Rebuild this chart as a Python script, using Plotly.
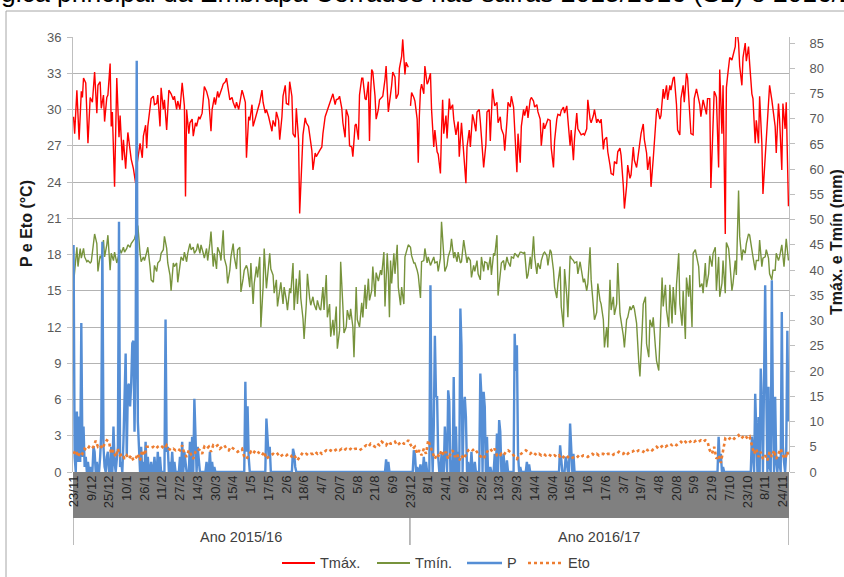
import plotly.graph_objects as go

N_DAYS = 646
FONT = "Liberation Sans, Arial, sans-serif"

tick_days = list(range(0, 289, 16)) + list(range(304, 641, 16))
tick_text = ["23/11", "9/12", "25/12", "10/1", "26/1", "11/2", "27/2", "14/3", "30/3", "15/4",
             "1/5", "17/5", "2/6", "18/6", "4/7", "20/7", "5/8", "21/8", "6/9",
             "23/12", "8/1", "24/1", "9/2", "25/2", "13/3", "29/3", "14/4", "30/4", "16/5",
             "1/6", "17/6", "3/7", "19/7", "4/8", "20/8", "5/9", "21/9", "7/10", "23/10",
             "8/11", "24/11"]
seasons = ["Ano 2015/16", "Ano 2016/17"]
season_bounds = [-0.5, 303.5, 645.5]

tmax_pts = [
(0,29.4),(1,28.0),(3,31.6),(5,27.5),(7,31.5),(8,31.0),(9,32.6),(11,32.2),(13,27.2),(15,31.0),(17,30.6),(19,33.1),(21,29.7),(22,32.0),(24,32.3),(25,30.1),(27,31.2),(28,29.0),(30,31.0),(31,31.2),(33,33.8),(34,28.6),(35,29.8),(37,23.6),(39,32.6),(41,27.7),(42,29.5),(44,25.8),(45,27.5),(47,25.1),(49,28.1),(51,26.5),(52,25.9),(54,25.1),(56,23.9),(57,25.3),(60,27.2),(62,26.0),(63,27.8),(65,28.7),(66,26.8),(67,28.6),(69,30.0),(70,30.9),(72,31.1),(73,30.4),(75,30.5),(76,31.2),(78,28.6),(79,31.8),(81,30.0),(82,30.8),(84,28.3),(86,31.6),(88,31.3),(90,30.8),(91,31.1),(93,30.0),(94,30.7),(96,30.0),(98,32.2),(100,30.3),(101,22.8),(102,30.0),(104,28.0),(105,28.9),(107,29.2),(108,27.8),(110,28.9),(111,28.6),(113,29.4),(114,29.2),(116,29.7),(118,31.9),(120,31.5),(122,30.8),(124,28.2),(125,30.0),(127,31.0),(128,30.4),(130,31.5),(131,31.0),(134,31.8),(135,32.1),(137,32.3),(138,32.6),(140,31.4),(141,30.8),(143,31.0),(144,30.6),(146,30.1),(147,30.6),(149,30.0),(150,30.6),(152,31.6),(153,31.3),(155,30.6),(156,26.0),(158,29.4),(159,29.1),(161,30.4),(162,28.6),(164,29.3),(165,29.7),(167,30.3),(168,30.6),(170,31.6),(171,30.6),(173,29.7),(174,30.0),(176,29.4),(177,28.9),(179,28.2),(180,29.1),(182,28.6),(183,29.8),(185,29.1),(186,27.5),(188,29.4),(189,31.1),(191,32.0),(192,30.5),(194,30.4),(195,32.3),(197,31.1),(198,28.0),(200,27.7),(201,30.1),(203,27.5),(204,21.4),(206,26.9),(207,27.9),(209,29.3),(210,28.9),(212,28.6),(213,27.9),(215,26.6),(216,25.0),(218,26.4),(219,26.1),(221,26.5),(222,26.6),(224,26.9),(225,28.0),(227,29.4),(228,29.7),(230,30.1),(231,30.6),(233,31.2),(234,31.3),(236,30.4),(237,30.8),(239,30.9),(240,31.1),(242,30.1),(243,28.9),(245,27.7),(246,30.0),(248,29.4),(249,27.0),(251,26.9),(252,26.1),(254,28.7),(255,28.8),(257,27.5),(258,31.2),(260,32.6),(261,32.6),(263,30.9),(264,30.8),(266,32.3),(267,27.4),(268,31.3),(269,33.3),(270,33.1),(272,31.1),(273,29.2),(275,30.0),(276,30.8),(278,31.0),(279,31.1),(281,32.5),(282,33.6),(284,29.8),(285,30.5),(287,32.0),(288,33.1),(290,32.7),(291,30.9),(293,31.3),(294,33.4),(296,34.4),(297,35.8),(299,32.9),(300,33.9),(301,33.6),(302,33.5),(303,None),
(304,30.3),(305,31.4),(307,31.0),(308,30.7),(310,29.2),(311,25.6),(312,29.5),(313,31.6),(314,32.1),(316,31.3),(317,33.6),(319,32.1),(320,32.3),(322,33.0),(323,30.0),(325,26.9),(326,28.3),(328,26.5),(329,26.3),(331,24.7),(332,28.3),(333,30.8),(334,28.0),(336,29.5),(337,27.6),(339,30.9),(340,30.0),(342,30.4),(343,29.2),(345,27.9),(347,29.0),(348,26.1),(350,28.9),(351,27.6),(353,25.0),(354,23.9),(355,26.9),(357,28.3),(358,26.9),(360,29.6),(361,29.2),(363,28.2),(364,29.8),(366,30.0),(367,29.0),(369,26.0),(370,25.2),(372,27.1),(373,29.8),(375,30.0),(376,27.4),(378,31.7),(379,31.1),(380,30.3),(382,30.6),(383,28.9),(385,29.4),(386,28.4),(388,27.9),(389,26.6),(391,29.0),(392,30.6),(394,30.2),(395,31.1),(397,30.2),(398,28.6),(400,24.8),(401,28.0),(403,25.6),(404,28.6),(406,30.0),(407,29.5),(409,30.3),(410,29.3),(412,30.8),(413,31.0),(415,30.7),(416,30.2),(418,30.4),(419,29.8),(421,29.2),(422,27.0),(424,28.9),(425,28.4),(427,28.9),(428,29.2),(430,29.1),(431,26.8),(433,25.2),(434,27.4),(436,29.2),(437,29.6),(439,29.5),(440,29.9),(442,30.2),(443,29.7),(445,30.3),(446,29.4),(448,27.0),(449,28.3),(451,25.8),(452,27.6),(454,29.7),(455,28.4),(457,28.1),(458,27.9),(460,28.0),(461,27.9),(463,28.4),(464,30.8),(466,29.2),(467,28.9),(469,29.5),(470,30.0),(472,28.9),(473,29.2),(475,28.9),(476,29.2),(478,26.7),(479,27.5),(481,27.7),(482,26.5),(484,25.4),(485,24.7),(487,24.6),(488,25.7),(490,25.5),(491,26.5),(493,26.8),(494,26.2),(496,23.7),(497,21.8),(499,23.7),(500,25.4),(502,24.3),(503,24.6),(505,26.9),(506,25.8),(508,25.2),(509,25.9),(511,27.0),(512,28.0),(514,28.8),(515,27.5),(517,26.4),(518,25.0),(520,26.1),(521,23.6),(523,25.9),(524,27.5),(526,29.9),(527,30.1),(529,29.2),(530,29.5),(532,31.7),(533,30.9),(535,32.0),(536,30.8),(538,32.0),(539,31.6),(541,32.6),(542,32.7),(544,30.4),(545,28.3),(547,27.9),(548,30.9),(550,32.0),(551,30.6),(553,33.0),(554,32.6),(556,29.0),(557,28.0),(559,27.9),(560,30.9),(562,31.7),(563,31.2),(565,30.4),(566,29.4),(568,30.8),(569,30.4),(571,29.6),(572,30.9),(574,30.9),(575,23.5),(577,28.0),(578,31.5),(579,31.3),(580,31.0),(582,25.2),(583,33.3),(585,28.0),(586,32.0),(588,19.7),(589,31.8),(590,32.7),(591,33.6),(592,34.3),(594,34.1),(595,34.5),(597,35.2),(598,37.0),(600,35.5),(601,33.6),(603,32.0),(604,34.3),(606,35.5),(607,34.0),(609,35.2),(610,33.8),(612,31.3),(613,30.9),(615,27.2),(616,29.1),(618,27.2),(619,31.1),(621,27.2),(622,23.0),(624,25.8),(625,27.5),(627,30.0),(628,32.0),(630,30.8),(631,30.0),(633,28.6),(634,26.4),(636,30.5),(637,29.2),(639,25.0),(640,30.5),(642,28.4),(643,30.6),(645,22.0)]

tmin_pts = [
(0,15.6),(2,17.8),(3,18.6),(4,17.0),(6,18.5),(7,17.7),(9,18.5),(10,17.8),(12,17.4),(13,17.5),(15,17.3),(16,17.4),(18,18.8),(19,19.7),(21,18.9),(22,16.6),(24,17.9),(25,17.7),(27,19.2),(28,17.8),(30,18.8),(31,19.6),(33,16.7),(34,18.1),(36,17.5),(37,18.2),(39,17.3),(40,17.7),(42,18.4),(43,18.1),(45,18.6),(46,18.2),(48,18.5),(49,18.8),(51,18.6),(52,18.9),(54,19.2),(55,19.3),(57,20.0),(58,20.4),(60,18.1),(61,17.4),(63,17.8),(64,17.5),(66,18.2),(67,18.6),(69,17.0),(70,15.9),(72,15.7),(73,17.1),(75,16.6),(76,17.3),(78,17.5),(79,18.1),(81,18.4),(82,19.5),(84,18.5),(85,17.3),(87,16.3),(88,15.0),(90,17.3),(91,17.0),(93,17.3),(94,15.7),(96,17.1),(97,17.8),(99,17.5),(100,18.2),(102,17.4),(103,18.1),(105,18.9),(106,18.4),(108,18.6),(109,18.1),(111,18.4),(112,18.9),(114,18.1),(115,18.8),(117,18.1),(118,17.7),(120,18.5),(121,17.5),(123,18.9),(124,19.9),(126,17.0),(127,18.1),(129,16.8),(130,18.6),(132,18.1),(133,17.5),(135,20.0),(136,17.7),(138,17.0),(139,15.6),(141,16.7),(142,17.8),(144,18.9),(145,17.8),(147,16.8),(148,18.4),(150,18.6),(151,14.9),(153,16.0),(154,16.7),(156,17.1),(157,16.8),(159,15.3),(160,17.3),(162,13.9),(163,15.6),(165,17.0),(166,16.1),(168,17.8),(169,12.0),(171,15.3),(172,18.5),(174,15.2),(175,16.0),(177,18.1),(178,16.8),(180,16.3),(181,14.8),(183,15.9),(184,13.7),(186,15.0),(187,15.7),(189,13.9),(190,15.3),(192,14.2),(193,13.4),(195,15.2),(196,14.8),(198,17.3),(199,13.4),(201,16.0),(202,13.9),(204,16.7),(205,14.4),(207,12.7),(208,11.0),(210,13.9),(211,16.4),(213,14.4),(214,13.8),(216,14.5),(217,13.9),(219,13.4),(220,14.2),(222,13.5),(223,13.4),(225,15.3),(226,13.4),(228,16.3),(229,12.8),(231,13.9),(232,11.2),(234,12.6),(235,11.3),(237,13.7),(238,10.2),(240,11.7),(241,17.4),(243,13.7),(244,11.5),(246,12.0),(247,13.4),(249,12.6),(250,13.5),(252,12.0),(253,9.5),(255,15.3),(256,12.6),(258,12.0),
(260,14.0),(261,12.8),(263,15.5),(264,13.5),(266,16.0),(267,14.2),(269,15.0),(270,17.0),(272,14.5),(273,16.5),(275,15.8),
(277,16.7),(278,16.3),(280,18.2),(281,13.7),(283,18.1),(284,16.4),(285,12.8),(286,17.5),(287,15.6),(289,18.1),(290,16.4),(292,18.8),(293,15.3),(295,13.8),(296,15.3),(298,13.9),(299,17.8),(301,18.6),(302,18.8),
(304,18.6),(305,17.9),(307,17.3),(308,17.3),(310,16.7),(311,16.3),(313,14.4),(314,17.4),(316,17.5),(317,18.5),(319,17.3),(320,17.8),(322,17.1),(323,17.4),(325,17.8),(326,17.3),(328,17.4),(329,16.6),(331,17.7),(332,20.7),(334,17.8),(335,16.6),(337,17.1),(338,17.8),(340,18.4),(341,19.3),(343,17.7),(344,18.2),(346,17.4),(347,18.2),(349,17.3),(350,17.4),(352,19.2),(353,18.5),(355,17.3),(356,17.8),(358,17.5),(359,16.1),(361,17.1),(362,16.6),(364,17.5),(365,16.4),(367,15.9),(368,17.8),(370,16.6),(371,17.4),(373,17.3),(374,16.7),(376,17.8),(377,16.3),(379,18.1),(380,17.9),(382,19.6),(383,14.6),(385,16.7),(386,17.3),(388,17.5),(389,16.7),(391,17.8),(392,17.4),(394,17.0),(395,17.8),(397,17.7),(398,18.1),(400,17.9),(401,17.8),(403,18.2),(404,18.2),(406,18.1),(407,18.2),(409,16.0),(410,16.3),(412,17.8),(413,16.8),(415,19.5),(416,17.8),(418,16.4),(419,17.3),(421,16.8),(422,17.5),(424,18.1),(425,18.2),(427,17.9),(428,17.1),(430,18.4),(431,18.2),(433,16.7),(434,15.3),(436,14.4),(437,15.6),(439,17.0),(440,13.7),(442,12.0),(443,16.8),(445,14.6),(446,12.8),(448,17.9),(449,17.7),(451,17.5),(452,17.3),(454,17.4),(455,16.4),(457,17.4),(458,16.7),(460,15.7),(461,16.0),(463,15.0),(464,15.6),(466,18.6),(467,15.9),(469,13.7),(470,12.6),(472,13.2),(473,15.6),(475,14.2),(476,13.9),(478,12.6),(479,10.3),(481,12.0),(482,10.3),(484,15.9),(485,13.4),(487,14.5),(488,13.0),(490,13.9),(491,17.3),(493,13.1),(494,12.6),(496,11.3),(497,10.3),(499,12.6),(500,12.8),(502,13.7),(503,13.4),(505,13.8),(506,13.5),(508,12.3),(510,9.0),(511,7.9),(513,11.7),(514,13.9),(516,14.5),(517,10.6),(519,9.5),(520,12.6),(522,12.0),(523,12.8),(525,10.3),(526,9.2),(528,8.4),(529,11.2),(531,16.1),(532,13.7),(534,15.5),(535,13.4),(537,12.0),(538,15.5),(540,12.3),(541,15.3),(543,13.0),(544,15.5),(546,18.1),(547,13.9),(549,12.1),(550,15.0),(552,11.0),(553,16.1),(555,14.5),(556,16.3),(558,12.0),(559,18.1),(561,18.4),(562,17.9),(564,17.0),(565,15.3),(567,15.6),(568,14.8),(570,17.3),(571,15.3),(573,16.4),(574,17.9),(576,17.0),(577,18.1),(579,18.6),(580,15.0),(582,17.8),(583,14.5),(585,15.6),(586,17.5),(588,14.8),(589,19.0),(591,18.5),(592,17.5),(594,15.0),(595,15.6),(597,17.5),(598,16.3),(600,23.3),(601,19.5),(603,17.5),(604,18.4),(606,18.1),(607,18.9),(609,19.7),(610,19.6),(612,18.6),(613,17.8),(615,16.7),(616,17.5),(618,17.5),(619,19.2),(621,17.0),(622,17.7),(624,17.8),(625,18.4),(627,17.7),(628,16.4),(630,15.9),(631,16.7),(633,16.7),(634,18.1),(636,17.5),(637,17.8),(639,18.8),(641,17.0),(643,19.3),(645,17.5)]

# rainy days (day index, mm); every other day had no rain (0 mm)
rain_pts = [
(0,45),(1,3),(3,12),(4,2),(5,11),(6,2),(7,29.5),(8,3),(9,9),(10,1),(11,3),(13,2),(15,1),(18,5),(19,4),(21,2),(24,3),(25,7.6),(26,45.6),(27,5),(28,1),(30,3),(31,4),(34,5),(36,9),(37,2),(39,3),(40,5),(41,49.6),(42,1),(43,2),(45,6),(46,13),(47,23.5),(48,3),(49,17),(50,17.5),(51,13),(52,17.5),(53,25.5),(54,26),(55,8),(56,23),(57,81.5),(58,10),(59,3),(61,5),(63,2),(65,6),(67,3),(70,2),(73,3),(76,4),(78,3),(83,30.2),(84,4),(85,5),(87,2),(89,4),(91,2),(96,3),(98,6),(100,4),(101,1),(105,6),(107,7),(109,14.5),(110,5),(112,5),(113,3),(120,2),(123,4),(125,2),(127,1),(155,17.9),(156,4),(157,13),(158,3),(174,10.6),(175,7.6),(176,3),(177,5),(198,4.6),(199,3.6),(200,1),(282,2.5),(284,2),
(307,4.3),(308,3.5),(310,1),(313,1.5),(316,3),(318,2),(322,37),(323,8),(325,9),(326,27),(327,15),(328,14.9),(329,3),(332,3.6),(335,9),(336,4),(338,16.2),(339,14),(341,2.3),(343,18.8),(345,9),(347,4),(349,32.4),(350,25),(352,12.9),(353,14.9),(354,10.9),(356,2),(359,4),(362,2),(367,19.5),(368,15),(370,15.9),(371,12.9),(373,7),(376,1),(380,3.6),(382,7.6),(384,10.3),(385,8),(388,3.6),(391,2.3),(398,27.4),(399,20),(400,25.1),(401,3.6),(403,1),(409,2),(411,1.5),(439,5.3),(440,2),(444,3),(445,2),(448,9.6),(449,5),(451,3.6),(582,7),(583,2),(584,3.6),(586,1),(612,7),(613,3),(615,15.5),(616,8),(618,10.9),(620,20.5),(621,12.9),(623,26.1),(624,37),(625,16),(627,16.9),(628,1),(630,38),(631,11.6),(633,14.9),(634,2),(636,3),(637,1.5),(639,31.7),(640,5),(641,2),(643,4),(644,28),(645,10)]

eto_pts = [
(0,3.6),(2,4.3),(4,3.0),(6,4.0),(8,3.6),(10,4.6),(12,4.3),(14,5.0),(16,4.6),(18,5.0),(20,6.2),(22,5.0),(24,5.3),(26,4.6),(28,5.6),(30,6.3),(32,6.0),(34,3.6),(36,4.3),(38,3.0),(40,4.6),(42,3.3),(44,3.6),(46,2.6),(48,3.3),(50,2.6),(52,3.3),(54,2.3),(56,2.6),(58,3.6),(60,2.3),(62,4.3),(64,3.3),(66,5.0),(68,5.0),(70,4.8),(72,5.0),(74,4.6),(76,5.0),(78,5.3),(80,5.0),(82,4.6),(84,5.3),(86,4.6),(88,4.3),(90,4.6),(92,4.3),(94,4.6),(96,4.3),(98,5.3),(100,3.6),(102,3.0),(104,4.3),(106,3.3),(108,2.6),(110,4.0),(112,4.6),(114,4.3),(116,3.6),(118,5.0),(120,4.6),(122,5.0),(124,4.0),(126,5.3),(128,5.0),(130,5.3),(132,4.6),(134,5.0),(136,5.3),(138,4.6),(140,4.3),(142,5.0),(144,4.6),(146,4.3),(148,4.0),(150,4.3),(152,4.6),(154,3.0),(156,2.6),(158,3.3),(160,4.0),(162,3.6),(164,4.3),(166,4.0),(168,3.6),(170,3.3),(172,4.0),(174,2.6),(176,3.0),(178,3.3),(180,3.6),(182,3.3),(184,3.6),(186,3.0),(188,3.3),(190,3.6),(192,3.3),(194,3.6),(196,3.3),(198,2.6),(200,3.0),(202,2.3),(204,3.0),(206,3.6),(208,3.3),(210,3.6),(212,3.3),(214,3.6),(216,3.6),(218,4.0),(220,3.6),(222,4.0),(224,3.6),(226,4.0),(228,4.3),(230,4.0),(232,4.3),(234,4.0),(236,4.3),(238,4.6),(240,4.3),(242,4.6),(244,4.3),(246,4.6),(248,4.3),(250,4.6),(252,4.3),(254,4.6),(256,4.6),(258,4.3),(260,4.6),(262,5.0),(264,5.3),(266,5.0),(268,5.6),(270,5.3),(272,5.0),(274,5.6),(276,5.3),(278,6.0),(280,5.6),(282,5.3),(284,6.0),(286,5.6),(288,5.6),(290,6.0),(292,5.3),(294,5.6),(296,6.0),(298,5.6),(300,5.6),(302,6.3),
(304,5.3),(306,4.6),(308,5.0),(310,3.6),(312,4.3),(314,3.3),(316,4.6),(318,3.6),(320,6.3),(322,5.0),(324,4.0),(326,2.6),(328,3.6),(330,3.0),(332,4.3),(334,3.3),(336,4.0),(338,2.6),(340,3.6),(342,4.3),(344,3.0),(346,3.6),(348,2.3),(350,3.3),(352,2.6),(354,3.6),(356,4.3),(358,4.6),(360,4.3),(362,4.6),(364,4.0),(366,3.3),(368,3.0),(370,2.6),(372,3.6),(374,4.3),(376,4.6),(378,4.0),(380,4.6),(382,3.3),(384,3.0),(386,3.6),(388,3.3),(390,4.0),(392,4.3),(394,4.0),(396,3.6),(398,3.0),(400,2.6),(402,3.3),(404,3.6),(406,4.0),(408,4.3),(410,4.0),(412,3.6),(414,4.0),(416,3.6),(418,3.3),(420,3.6),(422,3.3),(424,3.6),(426,3.3),(428,3.6),(430,3.3),(432,3.0),(434,3.3),(436,3.0),(438,3.3),(440,2.6),(442,3.0),(444,2.6),(446,3.0),(448,2.6),(450,2.8),(452,3.0),(454,2.8),(456,3.3),(458,3.0),(460,3.3),(462,3.3),(464,3.0),(466,3.3),(468,3.6),(470,3.3),(472,3.6),(474,3.3),(476,3.6),(478,3.6),(480,3.3),(482,3.6),(484,3.6),(486,3.3),(488,3.6),(490,3.6),(492,4.0),(494,3.6),(496,3.6),(498,4.0),(500,3.6),(502,4.0),(504,4.0),(506,4.3),(508,4.0),(510,4.3),(512,4.3),(514,4.0),(516,4.6),(518,4.3),(520,4.6),(522,4.3),(524,4.6),(526,5.0),(528,4.6),(530,5.0),(532,5.3),(534,5.0),(536,5.3),(538,5.6),(540,5.3),(542,5.6),(544,5.3),(546,5.6),(548,6.0),(550,5.6),(552,6.0),(554,5.6),(556,6.0),(558,6.3),(560,6.0),(562,6.3),(564,6.0),(566,6.3),(568,6.0),(570,6.3),(572,6.0),(574,4.3),(576,3.6),(578,5.0),(580,2.6),(582,3.3),(584,1.8),(586,4.3),(588,6.6),(590,6.3),(592,6.6),(594,7.0),(596,6.6),(598,7.0),(600,7.3),(602,6.6),(604,7.0),(606,7.3),(608,6.6),(610,7.0),(612,5.3),(614,3.6),(616,4.6),(618,3.0),(620,4.0),(622,2.6),(624,3.3),(626,2.3),(628,4.0),(630,3.0),(632,4.3),(634,2.6),(636,3.6),(638,4.6),(640,3.3),(642,2.6),(644,4.0),(645,3.0)]

top_text = "gica principal da Embrapa Cerrados nas safras 2015/2016 (S1) e 2016/2"

series_names = ["Tmáx.", "Tmín.", "P", "Eto"]
series_colors = ["#FF0000", "#77933C", "#558ED5", "#ED7D31"]

# ---- build series ----
tmax_x = [d for d, v in tmax_pts]
tmax_y = [v for d, v in tmax_pts]
tmin_x = [d for d, v in tmin_pts]
tmin_y = [v for d, v in tmin_pts]
p_x = list(range(N_DAYS))
p_y = [0.0] * N_DAYS
for d, v in rain_pts:
    p_y[d] = v
eto_x = [d for d, v in eto_pts]
eto_y = [v for d, v in eto_pts]

fig = go.Figure()
fig.add_trace(go.Scatter(x=tmax_x, y=tmax_y, name=series_names[0], mode="lines",
                         line=dict(color=series_colors[0], width=1.4), yaxis="y"))
fig.add_trace(go.Scatter(x=tmin_x, y=tmin_y, name=series_names[1], mode="lines",
                         line=dict(color=series_colors[1], width=1.4), yaxis="y"))
fig.add_trace(go.Scatter(x=p_x, y=p_y, name=series_names[2], mode="lines",
                         line=dict(color=series_colors[2], width=2.4), yaxis="y2"))
fig.add_trace(go.Scatter(x=eto_x, y=eto_y, name=series_names[3], mode="lines",
                         line=dict(color=series_colors[3], width=2.6, dash="dot"), yaxis="y2"))

L, R, T, B = 73, 55, 37, 105
W, H = 844, 577
pw, ph = W - L - R, H - T - B

def px2x(px):
    return (px - L) / pw

def py2y(py):
    return (H - B - py) / ph

shapes = [
    # grey band behind the day labels
    dict(type="rect", xref="paper", yref="paper", x0=0, x1=1, y0=0, y1=py2y(518),
         fillcolor="#808080", line=dict(width=0), layer="below"),
    # outer chart frame (top / left edges visible)
    dict(type="line", xref="paper", yref="paper", x0=px2x(6), x1=px2x(900),
         y0=py2y(11), y1=py2y(11), line=dict(color="#a6a6a6", width=1)),
    dict(type="line", xref="paper", yref="paper", x0=px2x(6), x1=px2x(6),
         y0=py2y(11), y1=py2y(620), line=dict(color="#a6a6a6", width=1)),
]
for b in season_bounds:
    shapes.append(dict(type="line", xref="x", yref="paper", x0=b, x1=b,
                       y0=py2y(518), y1=py2y(545),
                       line=dict(color="#a6a6a6", width=1.5)))

annotations = []
for i, s in enumerate(seasons):
    annotations.append(dict(text=s, xref="x", yref="paper",
                            x=(season_bounds[i] + season_bounds[i + 1]) / 2, y=py2y(537),
                            showarrow=False, xanchor="center", yanchor="middle",
                            font=dict(family=FONT, size=14.5, color="#404040")))
annotations.append(dict(text="<b>P e Eto (°C)</b>", xref="paper", yref="paper",
                        x=px2x(26), y=py2y(224), textangle=-90, showarrow=False,
                        xanchor="center", yanchor="middle",
                        font=dict(family=FONT, size=16, color="#1a1a1a")))
annotations.append(dict(text="<b>Tmáx. e Tmín (mm)</b>", xref="paper", yref="paper",
                        x=px2x(836), y=py2y(242), textangle=-90, showarrow=False,
                        xanchor="center", yanchor="middle",
                        font=dict(family=FONT, size=16, color="#1a1a1a")))
annotations.append(dict(text=top_text, xref="paper", yref="paper",
                        x=px2x(-1), y=py2y(-7), showarrow=False,
                        xanchor="left", yanchor="middle",
                        font=dict(family=FONT, size=26.5, color="#000000")))

# legend drawn at the reference's positions (line sample + label)
legend_line_px = [(282, 315), (377, 410), (467, 502), (528, 563)]
legend_text_px = [318, 413, 505, 566]
legend_widths = [2.2, 2.2, 2.6, 2.6]
legend_dash = ["solid", "solid", "solid", "dot"]
LEG_Y = 563
for i in range(4):
    x0, x1 = legend_line_px[i]
    shapes.append(dict(type="line", xref="paper", yref="paper",
                       x0=px2x(x0), x1=px2x(x1), y0=py2y(LEG_Y), y1=py2y(LEG_Y),
                       line=dict(color=series_colors[i], width=legend_widths[i],
                                 dash=legend_dash[i])))
    annotations.append(dict(text=series_names[i], xref="paper", yref="paper",
                            x=px2x(legend_text_px[i]), y=py2y(LEG_Y), showarrow=False,
                            xanchor="left", yanchor="middle",
                            font=dict(family=FONT, size=14.5, color="#404040")))

fig.update_layout(
    width=W, height=H,
    margin=dict(l=L, r=R, t=T, b=B, autoexpand=False),
    paper_bgcolor="white", plot_bgcolor="white",
    font=dict(family=FONT, size=13, color="#595959"),
    showlegend=False,
    xaxis=dict(range=[-0.5, N_DAYS - 0.5], tickmode="array", tickvals=tick_days,
               ticktext=tick_text, tickangle=-90, showgrid=False, zeroline=False,
               showline=False, ticks="", tickfont=dict(family=FONT, size=13, color="#262626")),
    yaxis=dict(range=[0, 36], dtick=3, tick0=0, showgrid=True, gridcolor="#b3b3b3",
               gridwidth=1, zeroline=False, showline=True, linecolor="#bfbfbf",
               ticks="outside", ticklen=5, tickcolor="#bfbfbf", ticklabelstandoff=3,
               tickfont=dict(family=FONT, size=13, color="#595959")),
    yaxis2=dict(range=[0, 86.2], dtick=5, tick0=0, overlaying="y", side="right",
                showgrid=False, zeroline=False, showline=True, linecolor="#bfbfbf",
                ticks="outside", ticklen=5, tickcolor="#bfbfbf", ticklabelstandoff=12,
                tickfont=dict(family=FONT, size=13, color="#595959")),
    shapes=shapes, annotations=annotations,
)

fig.write_html("out.html", config={"displayModeBar": False},
               post_script="document.body.style.margin='0px';document.body.style.overflow='hidden';")
